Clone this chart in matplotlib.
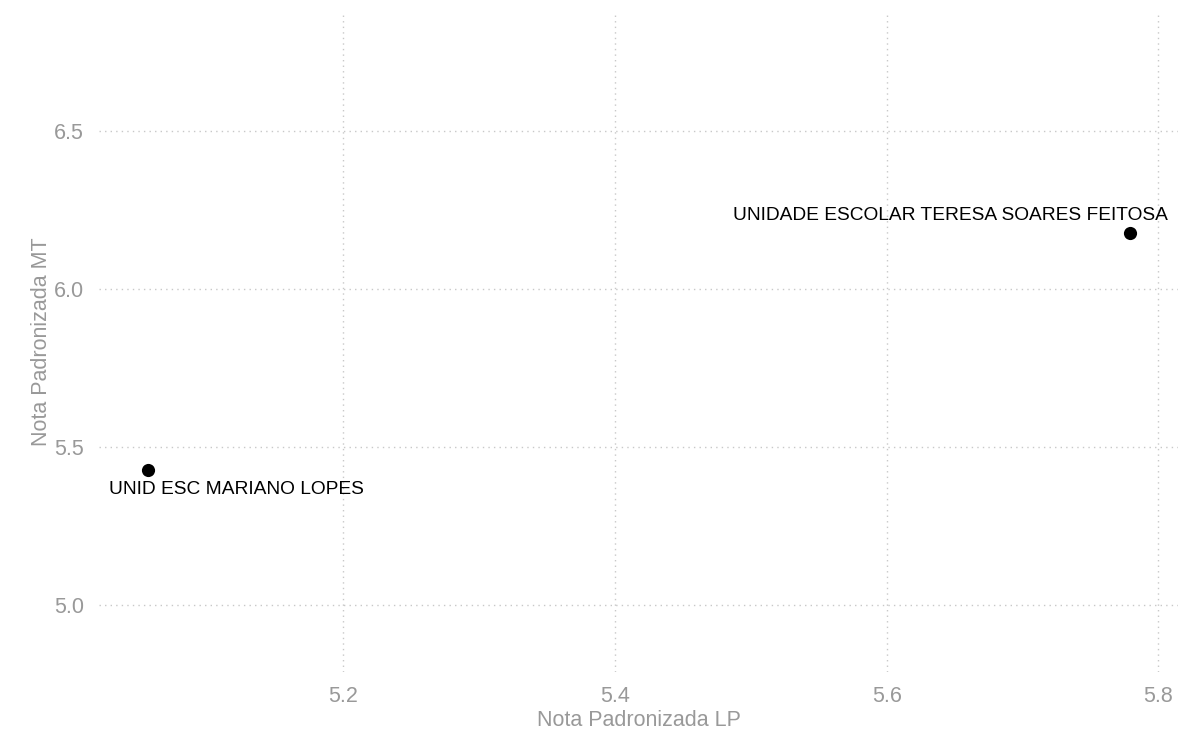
import matplotlib
matplotlib.use("Agg")
import matplotlib.pyplot as plt

escolas = ["UNID ESC MARIANO LOPES", "UNIDADE ESCOLAR TERESA SOARES FEITOSA"]
nota_lp = [5.0564, 5.7792]
nota_mt = [5.4262, 6.177]
label_offsets = [(88, -19), (-180, 18)]  # pixels

plt.rcParams['font.family'] = ['Liberation Sans', 'DejaVu Sans']

W, H = 1199, 733
fig = plt.figure(figsize=(W / 100, H / 100), dpi=100)
ax = fig.add_axes([99 / W, 1 - 672 / H, (1178 - 99) / W, (672 - 11) / H])

ax.scatter(nota_lp, nota_mt, s=90, color='black', zorder=3, linewidths=0)
for name, x, y, (dx, dy) in zip(escolas, nota_lp, nota_mt, label_offsets):
    ax.annotate(name, (x, y), xytext=(dx, dy), textcoords='offset pixels',
                ha='center', va='center', fontsize=13.8, color='black')

ax.set_xlim(5.020, 5.8145)
ax.set_ylim(4.788, 6.881)
ax.set_xticks([5.2, 5.4, 5.6, 5.8])
ax.set_yticks([5.0, 5.5, 6.0, 6.5])
ax.set_xticklabels(["5.2", "5.4", "5.6", "5.8"])
ax.set_yticklabels(["5.0", "5.5", "6.0", "6.5"])

for s in ax.spines.values():
    s.set_visible(False)
ax.grid(True, linestyle=(0, (1, 3)), color='#c8c8c8', linewidth=1.0)
ax.set_axisbelow(True)
ax.tick_params(length=0, labelsize=15.5, colors='#999999')
ax.tick_params(axis='x', pad=10)
ax.tick_params(axis='y', pad=11)

ax.set_xlabel("Nota Padronizada LP", fontsize=15.5, color='#999999', labelpad=2.4)
ax.set_ylabel("Nota Padronizada MT", fontsize=15.5, color='#999999', labelpad=1.5)

fig.savefig("out.png", dpi=100)
